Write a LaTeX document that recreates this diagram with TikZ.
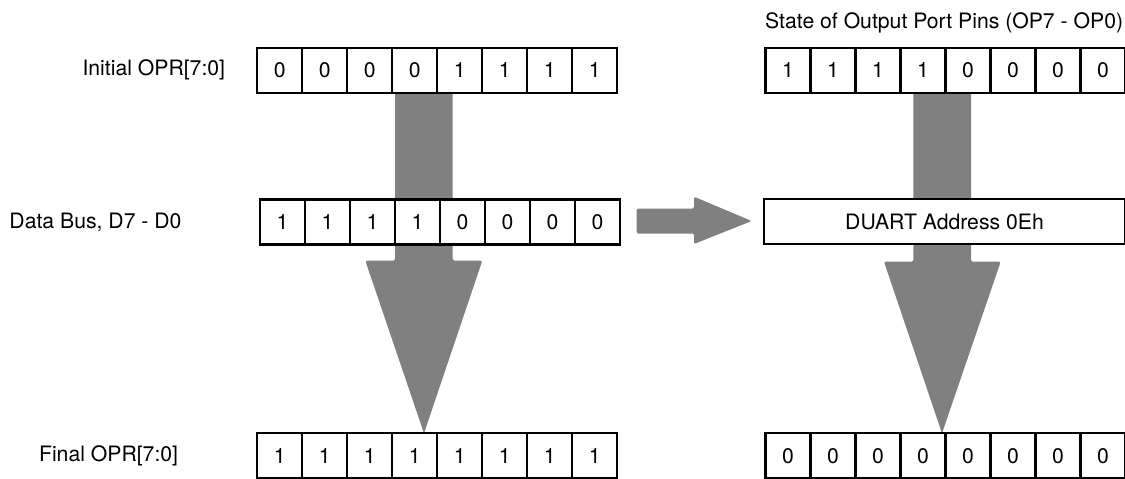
\documentclass[tikz,border=0pt]{standalone}
\usepackage{fontspec}
\setmainfont{TeX Gyre Heros}
\usetikzlibrary{backgrounds,calc}
\definecolor{ink}{HTML}{000000}
\definecolor{arrowgray}{HTML}{808080}
\tikzset{
  bitcell/.style={
    draw=ink, fill=white, line width=2.2pt,
    minimum width=45pt, minimum height=45pt, inner sep=0pt,
    font=\fontsize{21.2}{25}\selectfont
  },
  regbox/.style={
    draw=ink, fill=white, line width=2.2pt,
    minimum width=361pt, minimum height=45pt, inner sep=0pt,
    font=\fontsize{21.2}{25}\selectfont
  },
  rowlabel/.style={inner sep=0pt, font=\fontsize{21.2}{25}\selectfont},
  blockarrow/.style={fill=arrowgray, draw=none, rounded corners=1.5pt}
}

\begin{document}
\begin{tikzpicture}[x=1pt,y=-1pt]
  \useasboundingbox (0,0) rectangle (1125,479);

  % row labels
  \node[rowlabel,anchor=east] (initlbl) at (225.3,70.2) {Initial OPR[7:0]};
  \node[rowlabel,anchor=east] (buslbl) at (181.7,222) {Data Bus, D7 - D0};
  \node[rowlabel,anchor=east] (finlbl) at (178.3,455.8) {Final OPR[7:0]};
  \node[rowlabel,anchor=west] (pinlbl) at (765,23.3) {State of Output Port Pins (OP7 - OP0)};

  % left registers
  \foreach \b [count=\i from 0] in {0,0,0,0,1,1,1,1}
    \node[bitcell] (init\i) at (279.8+45*\i,70.2) {\b};
  \foreach \b [count=\i from 0] in {1,1,1,1,0,0,0,0}
    \node[bitcell] (bus\i) at (282.5+45*\i,222) {\b};
  \foreach \b [count=\i from 0] in {1,1,1,1,1,1,1,1}
    \node[bitcell] (fin\i) at (279.8+45*\i,455.8) {\b};

  % right side
  \foreach \b [count=\i from 0] in {1,1,1,1,0,0,0,0}
    \node[bitcell] (pin\i) at (788+45*\i,70.2) {\b};
  \node[regbox] (duart) at (944.5,221.5) {DUART Address 0Eh};
  \foreach \b [count=\i from 0] in {0,0,0,0,0,0,0,0}
    \node[bitcell] (out\i) at (788+45*\i,455.8) {\b};

  % big arrows behind the registers
  \begin{scope}[on background layer]
    \coordinate (ltip) at (424,433.3);
    \coordinate (rtip) at (942,433.3);
    \coordinate (htip) at (751.7,221);
    \fill[blockarrow] (395,70) -- (452.7,70) -- (452.7,260.7) -- (482.3,260.7)
      -- (ltip) -- (365.3,260.7) -- (395,260.7) -- cycle;
    \fill[blockarrow] (913.3,70) -- (971,70) -- (971,261.7) -- (1000.7,261.7)
      -- (rtip) -- (884,261.7) -- (913.3,261.7) -- cycle;
    \fill[blockarrow] (636.7,208.5) -- (694,208.5) -- (694,196.7)
      -- (htip) -- (694,244) -- (694,233.5) -- (636.7,233.5) -- cycle;
  \end{scope}
\end{tikzpicture}
\end{document}
